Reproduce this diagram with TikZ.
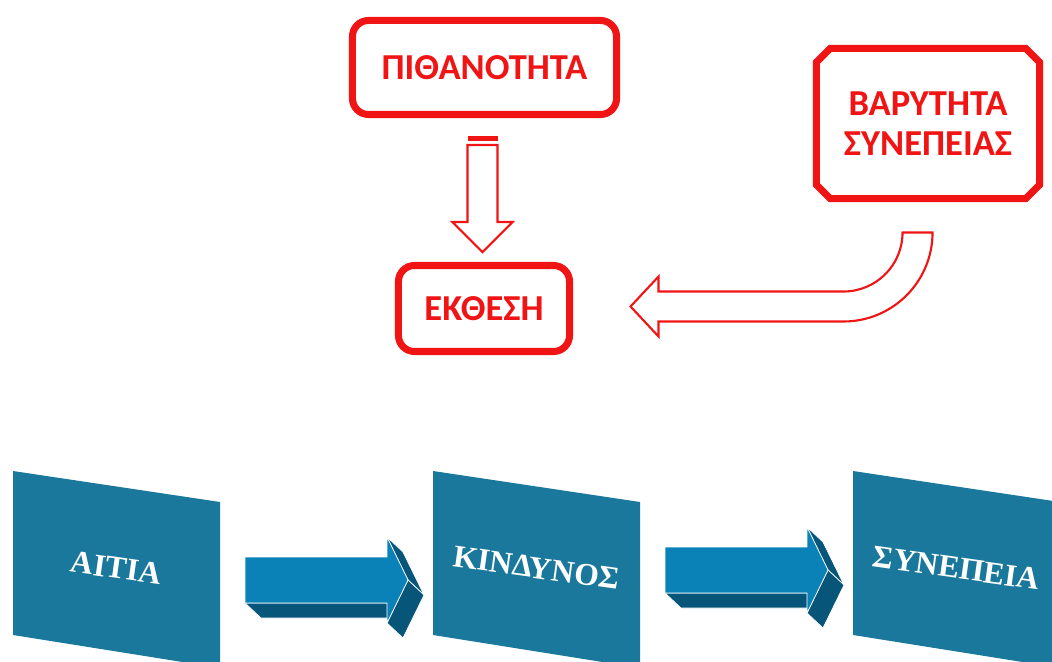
\documentclass[tikz,border=0pt]{standalone}
\usepackage{fontspec}
\setmainfont{Carlito}
\newfontfamily\panelfont{Liberation Serif}
\usepackage{xcolor}
\definecolor{riskRed}{HTML}{F01414}
\definecolor{panelTeal}{HTML}{1A789C}
\definecolor{arrowFront}{HTML}{0A82B8}
\definecolor{arrowSide}{HTML}{07567A}
\usetikzlibrary{calc,shapes.misc}

% 3d block arrow, placed by its upper left corner
\newcommand{\flowarrow}[1]{%
  \begin{scope}[shift={#1}, draw=white, line width=0.5pt, line join=round]
    \filldraw[fill=arrowSide] (0,46) -- (142,46) -- (158,61) -- (16,61) -- cycle;
    \filldraw[fill=arrowSide] (142,-20) -- (158,-5) -- (179,38) -- (163,23) -- cycle;
    \filldraw[fill=arrowSide] (163,23) -- (179,38) -- (158,81) -- (142,66) -- cycle;
    \filldraw[fill=arrowFront] (0,0) -- (142,0) -- (142,-20) -- (163,23)
      -- (142,66) -- (142,46) -- (0,46) -- cycle;
  \end{scope}}

\begin{document}
\begin{tikzpicture}[x=0.025cm, y=-0.025cm,
  redbox/.style={draw=riskRed, line width=5pt, text=riskRed, align=center,
    inner sep=0pt, font=\bfseries\fontsize{26}{28.5}\selectfont},
  hollow/.style={draw=riskRed, line width=1.5pt, line join=miter},
  panellabel/.style={text=white, rotate=-8,
    font=\panelfont\bfseries\fontsize{22.5}{24}\selectfont}]
  \clip (0,0) rectangle (1052,662);
  % red boxes
  \node[redbox, rounded corners=0.4cm, minimum width=6.6cm, minimum height=2.35cm]
    (pith) at (484.5,67.5) {ΠΙΘΑΝΟΤΗΤΑ};
  \node[redbox, chamfered rectangle, chamfered rectangle xsep=0.17cm,
    chamfered rectangle ysep=0.17cm, minimum width=5.575cm, minimum height=3.75cm]
    (bary) at (928,123.5) {ΒΑΡΥΤΗΤΑ\\ΣΥΝΕΠΕΙΑΣ};
  \node[redbox, rounded corners=0.4cm, minimum width=4.275cm, minimum height=2.15cm]
    (ekth) at (484,308.5) {ΕΚΘΕΣΗ};
  % striped arrow down
  \coordinate (dtop) at ($(pith.south)+(-2,18)$);
  \fill[riskRed] ($(dtop)+(-15,0)$) rectangle ++(30,5);
  \draw[hollow] ($(dtop)+(-15,9)$) -- ++(0,77) -- ++(-15,0) -- ++(30,30)
    -- ++(30,-30) -- ++(-15,0) -- ++(0,-77) -- cycle;
  % bent arrow from the right
  \coordinate (ctip) at ($(ekth.east)+(57.5,-2)$);
  \draw[hollow] (ctip) -- ++(28,-30) -- ++(0,15) -- ++(185,0)
    arc[start angle=90, end angle=0, radius=59] -- ++(30,0)
    arc[start angle=0, end angle=90, radius=89] -- ++(-185,0) -- ++(0,15) -- cycle;
  % chain of panels
  \foreach \dx/\name/\txt in {0/aitia/ΑΙΤΙΑ, 420/kind/ΚΙΝΔΥΝΟΣ, 840/syn/ΣΥΝΕΠΕΙΑ} {
    \fill[panelTeal] (13+\dx,471) -- (220+\dx,502) -- (220+\dx,668) -- (13+\dx,635) -- cycle;
    \node[panellabel] (\name) at (116.5+\dx,568) {\txt};
  }
  \flowarrow{(245,557)}
  \flowarrow{(665,547)}
\end{tikzpicture}
\end{document}
